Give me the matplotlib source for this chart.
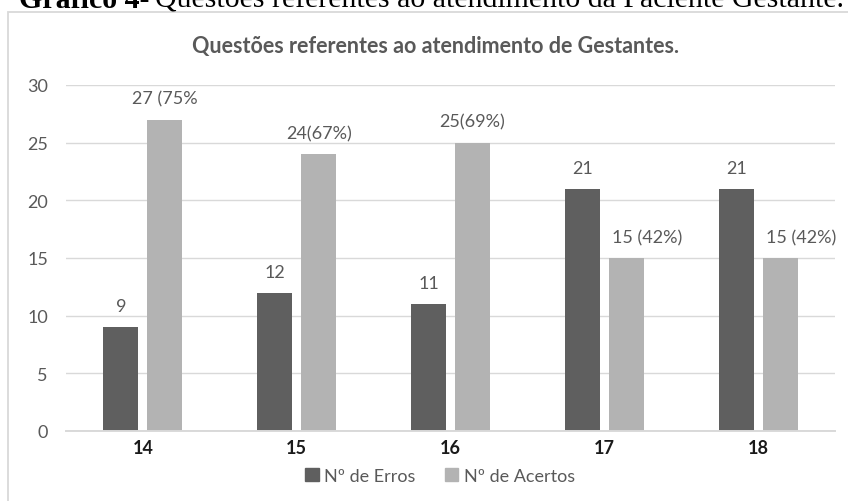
import matplotlib
matplotlib.use('Agg')
import matplotlib.pyplot as plt
from matplotlib.patches import Rectangle, Patch
import numpy as np

# Dados do gráfico
questoes = ['14', '15', '16', '17', '18']
erros = [9, 12, 11, 21, 21]
acertos = [27, 24, 25, 15, 15]
rotulos_erros = ['9', '12', '11', '21', '21']
rotulos_acertos = ['27 (75%', '24(67%)', '25(69%)', '15 (42%)', '15 (42%)']

cor_erros = '#5f5f5f'
cor_acertos = '#b3b3b3'
cinza_texto = '#595959'
cinza_linha = '#d9d9d9'
fonte = 'Lato'

W, H = 848, 502
fig = plt.figure(figsize=(W / 100, H / 100), dpi=100)

# moldura do gráfico (cortada à direita e embaixo)
fig.patches.append(Rectangle((8 / W, -0.1), 1.2, 1 - 13 / H + 0.1,
                             transform=fig.transFigure, fill=False,
                             edgecolor=cinza_linha, linewidth=1.3))

ax = fig.add_axes([66 / W, 1 - 432 / H, (835 - 66) / W, (432 - 86) / H])

x = np.arange(len(questoes))
largura = 0.227
desloc = 0.143
b1 = ax.bar(x - desloc, erros, largura, color=cor_erros, zorder=3)
b2 = ax.bar(x + desloc, acertos, largura, color=cor_acertos, zorder=3)

# rótulos de dados
for barra, txt in zip(b1, rotulos_erros):
    ax.annotate(txt, (barra.get_x() + barra.get_width() / 2, barra.get_height()),
                xytext=(0, 15), textcoords='offset points', ha='center', va='center',
                fontsize=13, color=cinza_texto, family=fonte)
for i, (barra, txt) in enumerate(zip(b2, rotulos_acertos)):
    dx = 15 if i >= 3 else 0
    ax.annotate(txt, (barra.get_x() + barra.get_width() / 2, barra.get_height()),
                xytext=(dx, 15), textcoords='offset points', ha='center', va='center',
                fontsize=13, color=cinza_texto, family=fonte)

ax.set_xlim(-0.5, len(questoes) - 0.5)
ax.set_ylim(0, 30)
ax.set_yticks(range(0, 31, 5))
ax.set_xticks(x)
ax.set_xticklabels(questoes, fontweight='bold', fontsize=13, family=fonte, color='#1a1a1a')
for lab in ax.get_yticklabels():
    lab.set_fontsize(13)
    lab.set_family(fonte)
    lab.set_color(cinza_texto)
ax.tick_params(axis='y', length=0, pad=13)
ax.tick_params(axis='x', length=0, pad=6)
ax.grid(axis='y', color=cinza_linha, linewidth=1.0, zorder=0)
for lado in ['top', 'right', 'left']:
    ax.spines[lado].set_visible(False)
ax.spines['bottom'].set_color(cinza_linha)
ax.spines['bottom'].set_linewidth(1.4)
ax.spines['bottom'].set_zorder(4)

fig.text(435 / W, 1 - 46 / H, 'Questões referentes ao atendimento de Gestantes.',
         ha='center', va='center', fontsize=15.5, fontweight='bold',
         color=cinza_texto, family=fonte)

# legenda
alcas = [Patch(color=cor_erros, label='Nº de Erros'),
         Patch(color=cor_acertos, label='Nº de Acertos')]
fig.legend(handles=alcas, loc='center', bbox_to_anchor=(440 / W, 1 - 477 / H),
           ncol=2, frameon=False, handlelength=0.75, handleheight=0.75,
           handletextpad=0.3, columnspacing=1.6,
           prop={'family': fonte, 'size': 13}, labelcolor=cinza_texto)

# legenda do documento (cortada no topo, como no original)
t1 = fig.text(19 / W, 1 - 8 / H, 'Gráfico 4-', ha='left', va='baseline',
              fontsize=21.5, fontweight='bold', family='Liberation Serif', color='black')
fig.canvas.draw()
bb = t1.get_window_extent()
fig.text(bb.x1 / W + 5 / W, 1 - 8 / H,
         'Questões referentes ao atendimento da Paciente Gestante.',
         ha='left', va='baseline', fontsize=21.5, family='Liberation Serif', color='black')

fig.savefig('out.png', dpi=100)
